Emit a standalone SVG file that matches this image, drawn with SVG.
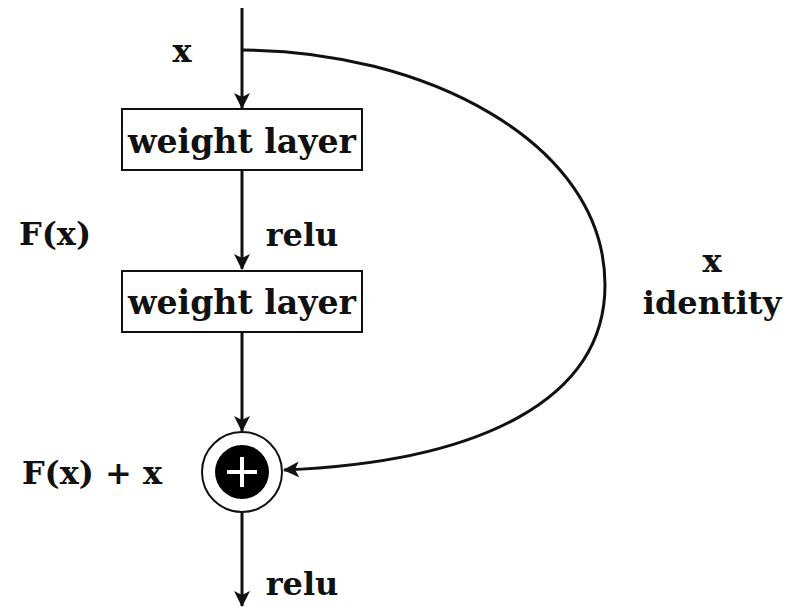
<svg xmlns="http://www.w3.org/2000/svg" width="789" height="612" viewBox="0 0 789 612">
<style>
text{font-family:"DejaVu Serif","Liberation Serif",serif;font-weight:bold;fill:#111;}
.lbl{font-size:32px;}
.box{fill:#fff;stroke:#111;stroke-width:2;}
.ln{stroke:#111;stroke-width:3;fill:none;}
</style>
<defs>
<marker id="ah" viewBox="0 0 16 16" refX="15" refY="8" markerWidth="16" markerHeight="16" markerUnits="userSpaceOnUse" orient="auto">
<path d="M0,0 L16,8 L0,16 L4,8 Z" fill="#111"/>
</marker>
</defs>
<rect width="789" height="612" fill="#fff"/>
<g id="connectors">
<line class="ln" x1="242" y1="8" x2="242" y2="108" marker-end="url(#ah)"/>
<line class="ln" x1="242" y1="170" x2="242" y2="269" marker-end="url(#ah)"/>
<line class="ln" x1="242" y1="332" x2="242" y2="431" marker-end="url(#ah)"/>
<line class="ln" x1="242" y1="513" x2="242" y2="606" marker-end="url(#ah)"/>
<path class="ln" d="M242,50 C420,50 605,140 605,285 C605,400 480,462 284,470" marker-end="url(#ah)"/>
</g>
<g id="weight1">
<rect class="box" x="122" y="109" width="240" height="61"/>
<text x="242" y="153" font-size="34" text-anchor="middle" textLength="228" lengthAdjust="spacingAndGlyphs">weight layer</text>
</g>
<g id="weight2">
<rect class="box" x="122" y="271" width="240" height="61"/>
<text x="242" y="314" font-size="34" text-anchor="middle" textLength="228" lengthAdjust="spacingAndGlyphs">weight layer</text>
</g>
<g id="add">
<circle cx="242" cy="472" r="40" fill="#fff" stroke="#111" stroke-width="2"/>
<circle cx="242" cy="472" r="27" fill="#000"/>
<path d="M227,472 H257 M242,457 V487" stroke="#fff" stroke-width="4"/>
</g>
<g id="labels">
<text class="lbl" x="182" y="62" text-anchor="middle">x</text>
<text class="lbl" x="55" y="245" text-anchor="middle">F(x)</text>
<text class="lbl" x="302" y="246" text-anchor="middle">relu</text>
<text class="lbl" x="712" y="272" text-anchor="middle">x</text>
<text class="lbl" x="712" y="314" text-anchor="middle">identity</text>
<text class="lbl" x="92" y="484" text-anchor="middle">F(x) + x</text>
<text class="lbl" x="302" y="595" text-anchor="middle">relu</text>
</g>
</svg>
